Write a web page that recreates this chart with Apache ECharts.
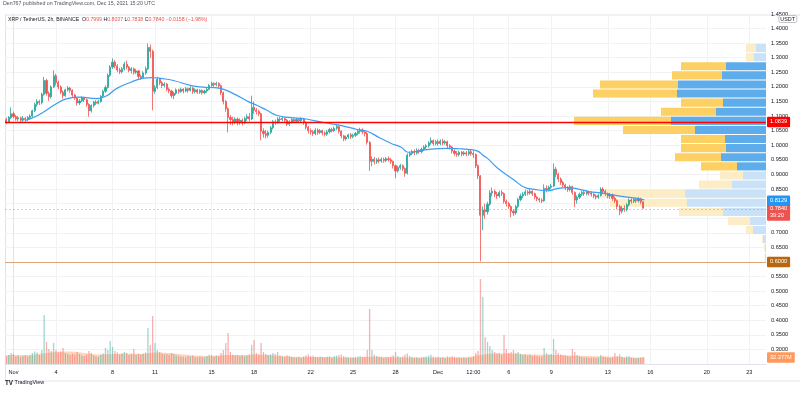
<!DOCTYPE html>
<html><head><meta charset="utf-8">
<script src="https://cdn.jsdelivr.net/npm/echarts@6/dist/echarts.min.js"></script>
<style>html,body{margin:0;padding:0;background:#fff}#c{width:800px;height:394px}</style>
</head><body><div id="c"></div>
<script>
// ---------------- DATA ----------------
// 4h candles starting Oct 31 12:00 UTC (day -0.5 relative to Nov 1 00:00), [open, close, low, high]
const candleStartDay = -0.5;
const candleStepDays = 1 / 6;
const candles = [
[1.088,1.080,1.072,1.095],[1.080,1.095,1.076,1.100],[1.095,1.108,1.090,1.130],
[1.108,1.098,1.092,1.115],[1.098,1.090,1.084,1.104],[1.090,1.094,1.082,1.100],[1.094,1.086,1.078,1.098],[1.086,1.092,1.080,1.100],[1.092,1.088,1.080,1.097],
[1.088,1.095,1.083,1.100],[1.095,1.100,1.088,1.106],[1.100,1.118,1.096,1.122],[1.118,1.140,1.114,1.146],[1.140,1.150,1.132,1.158],[1.150,1.146,1.138,1.156],
[1.146,1.175,1.140,1.180],[1.175,1.222,1.170,1.234],[1.222,1.178,1.170,1.228],[1.178,1.166,1.152,1.185],[1.166,1.200,1.160,1.205],[1.200,1.238,1.196,1.257],
[1.238,1.215,1.205,1.245],[1.215,1.200,1.192,1.222],[1.200,1.182,1.175,1.206],[1.182,1.170,1.160,1.188],[1.170,1.190,1.166,1.194],[1.190,1.196,1.184,1.203],
[1.196,1.188,1.180,1.200],[1.188,1.172,1.166,1.192],[1.172,1.162,1.156,1.176],[1.162,1.145,1.136,1.166],[1.145,1.152,1.138,1.158],[1.152,1.162,1.148,1.168],
[1.162,1.156,1.148,1.166],[1.156,1.140,1.132,1.160],[1.140,1.118,1.098,1.144],[1.118,1.136,1.112,1.140],[1.136,1.148,1.130,1.152],[1.148,1.144,1.138,1.155],
[1.144,1.150,1.140,1.156],[1.150,1.168,1.146,1.172],[1.168,1.185,1.162,1.190],[1.185,1.198,1.180,1.205],[1.198,1.240,1.194,1.246],[1.240,1.268,1.234,1.275],
[1.268,1.285,1.262,1.298],[1.285,1.272,1.264,1.292],[1.272,1.258,1.250,1.278],[1.258,1.252,1.244,1.266],[1.252,1.262,1.246,1.268],[1.262,1.278,1.256,1.286],
[1.278,1.268,1.260,1.290],[1.268,1.256,1.250,1.272],[1.256,1.262,1.246,1.268],[1.262,1.250,1.242,1.266],[1.250,1.255,1.244,1.262],[1.255,1.236,1.228,1.258],
[1.236,1.232,1.224,1.242],[1.232,1.248,1.228,1.254],[1.248,1.262,1.242,1.270],[1.262,1.335,1.258,1.349],[1.335,1.322,1.300,1.345],[1.322,1.185,1.120,1.328],
[1.185,1.198,1.176,1.206],[1.198,1.226,1.192,1.235],[1.226,1.214,1.206,1.232],[1.214,1.205,1.196,1.220],[1.205,1.210,1.198,1.216],[1.210,1.192,1.186,1.214],
[1.192,1.186,1.178,1.198],[1.186,1.170,1.162,1.190],[1.170,1.178,1.158,1.184],[1.178,1.190,1.172,1.195],[1.190,1.184,1.176,1.194],[1.184,1.192,1.180,1.198],
[1.192,1.186,1.178,1.196],[1.186,1.194,1.182,1.200],[1.194,1.188,1.180,1.198],[1.188,1.196,1.184,1.202],[1.196,1.184,1.176,1.200],[1.184,1.190,1.178,1.195],
[1.190,1.182,1.176,1.194],[1.182,1.188,1.176,1.192],[1.188,1.180,1.174,1.192],[1.180,1.186,1.175,1.190],[1.186,1.192,1.180,1.198],[1.192,1.205,1.188,1.210],
[1.205,1.212,1.200,1.218],[1.212,1.208,1.200,1.216],[1.208,1.212,1.202,1.218],[1.212,1.204,1.196,1.216],[1.204,1.180,1.172,1.208],[1.180,1.150,1.140,1.184],
[1.150,1.125,1.115,1.155],[1.125,1.095,1.044,1.130],[1.095,1.088,1.070,1.104],[1.088,1.080,1.068,1.098],[1.080,1.090,1.072,1.096],[1.090,1.078,1.068,1.095],
[1.078,1.086,1.070,1.092],[1.086,1.076,1.068,1.092],[1.076,1.092,1.072,1.098],[1.092,1.098,1.084,1.106],[1.098,1.090,1.082,1.110],[1.090,1.130,1.086,1.170],
[1.130,1.120,1.108,1.150],[1.120,1.116,1.105,1.128],[1.116,1.108,1.100,1.122],[1.108,1.048,1.017,1.112],[1.048,1.040,1.026,1.058],[1.040,1.034,1.024,1.052],
[1.034,1.044,1.026,1.050],[1.044,1.060,1.038,1.066],[1.060,1.080,1.054,1.086],[1.080,1.078,1.070,1.088],[1.078,1.090,1.074,1.096],[1.090,1.088,1.080,1.097],
[1.088,1.092,1.082,1.098],[1.092,1.086,1.078,1.096],[1.086,1.072,1.066,1.090],[1.072,1.080,1.066,1.086],[1.080,1.088,1.074,1.093],[1.088,1.082,1.076,1.092],
[1.082,1.088,1.076,1.094],[1.088,1.084,1.076,1.092],[1.084,1.090,1.078,1.096],[1.090,1.078,1.070,1.094],[1.078,1.062,1.054,1.082],[1.062,1.050,1.040,1.066],
[1.050,1.046,1.036,1.058],[1.046,1.040,1.032,1.052],[1.040,1.052,1.034,1.058],[1.052,1.044,1.036,1.058],[1.044,1.050,1.038,1.056],[1.050,1.042,1.034,1.054],
[1.042,1.038,1.030,1.048],[1.038,1.046,1.032,1.052],[1.046,1.054,1.040,1.060],[1.054,1.050,1.044,1.060],[1.050,1.058,1.046,1.064],[1.058,1.064,1.052,1.070],
[1.064,1.048,1.040,1.068],[1.048,1.032,1.024,1.052],[1.032,1.022,1.014,1.036],[1.022,1.028,1.016,1.034],[1.028,1.036,1.022,1.040],[1.036,1.030,1.022,1.042],
[1.030,1.034,1.024,1.040],[1.034,1.040,1.028,1.046],[1.040,1.048,1.034,1.054],[1.048,1.052,1.040,1.060],[1.052,1.046,1.038,1.058],[1.046,1.040,1.030,1.050],
[1.040,1.010,1.002,1.046],[1.010,0.945,0.912,1.014],[0.945,0.952,0.928,0.962],[0.952,0.944,0.934,0.960],[0.944,0.950,0.936,0.956],[0.950,0.946,0.938,0.958],
[0.946,0.952,0.940,0.958],[0.952,0.948,0.940,0.958],[0.948,0.954,0.942,0.960],[0.954,0.950,0.944,0.962],[0.950,0.944,0.936,0.956],[0.944,0.930,0.920,0.948],
[0.930,0.912,0.887,0.934],[0.912,0.924,0.906,0.930],[0.924,0.930,0.916,0.936],[0.930,0.920,0.912,0.934],[0.920,0.904,0.892,0.924],[0.904,0.966,0.900,0.972],
[0.966,0.972,0.960,0.978],[0.972,0.978,0.966,0.984],[0.978,0.974,0.966,0.986],[0.974,0.982,0.968,0.990],[0.982,0.978,0.970,0.988],[0.978,0.986,0.972,0.992],
[0.986,0.994,0.980,1.000],[0.994,0.998,0.986,1.004],[0.998,1.008,0.992,1.014],[1.008,1.016,1.002,1.027],[1.016,1.006,0.998,1.020],[1.006,1.012,1.000,1.018],
[1.012,1.006,0.998,1.020],[1.006,1.014,1.000,1.020],[1.014,1.008,1.000,1.022],[1.008,1.012,1.002,1.018],[1.012,0.998,0.990,1.016],[0.998,0.994,0.986,1.004],
[0.994,0.980,0.972,0.998],[0.980,0.972,0.964,0.986],[0.972,0.968,0.960,0.980],[0.968,0.976,0.962,0.982],[0.976,0.970,0.962,0.980],[0.970,0.974,0.964,0.980],
[0.974,0.970,0.962,0.980],[0.970,0.978,0.964,0.984],[0.978,0.972,0.964,0.984],[0.972,0.968,0.956,0.980],[0.968,0.930,0.922,0.972],[0.930,0.895,0.884,0.934],
[0.895,0.760,0.602,0.898],[0.760,0.778,0.709,0.790],[0.778,0.772,0.748,0.800],[0.772,0.798,0.762,0.806],[0.798,0.836,0.792,0.846],[0.836,0.842,0.824,0.855],
[0.842,0.832,0.822,0.848],[0.832,0.826,0.816,0.840],[0.826,0.838,0.820,0.844],[0.838,0.834,0.826,0.846],[0.834,0.808,0.800,0.838],[0.808,0.800,0.790,0.814],
[0.800,0.790,0.782,0.806],[0.790,0.774,0.753,0.794],[0.774,0.768,0.758,0.780],[0.768,0.790,0.762,0.796],[0.790,0.814,0.784,0.820],[0.814,0.826,0.808,0.834],
[0.826,0.832,0.818,0.840],[0.832,0.840,0.826,0.848],[0.840,0.836,0.828,0.846],[0.836,0.842,0.830,0.850],[0.842,0.834,0.826,0.846],[0.834,0.822,0.814,0.838],
[0.822,0.816,0.808,0.826],[0.816,0.812,0.804,0.820],[0.812,0.810,0.802,0.818],[0.810,0.852,0.806,0.866],[0.852,0.848,0.838,0.862],[0.848,0.856,0.842,0.862],
[0.856,0.860,0.848,0.868],[0.860,0.918,0.856,0.938],[0.918,0.900,0.890,0.926],[0.900,0.884,0.874,0.906],[0.884,0.872,0.864,0.890],[0.872,0.864,0.856,0.878],
[0.864,0.856,0.846,0.868],[0.856,0.848,0.840,0.860],[0.848,0.858,0.842,0.864],[0.858,0.838,0.830,0.862],[0.838,0.812,0.788,0.842],[0.812,0.822,0.800,0.828],
[0.822,0.832,0.816,0.838],[0.832,0.838,0.826,0.844],[0.838,0.834,0.826,0.846],[0.834,0.840,0.828,0.846],[0.840,0.836,0.828,0.844],[0.836,0.832,0.824,0.842],
[0.832,0.826,0.818,0.836],[0.826,0.822,0.814,0.832],[0.822,0.828,0.816,0.834],[0.828,0.850,0.824,0.856],[0.850,0.842,0.834,0.856],[0.842,0.834,0.826,0.848],
[0.834,0.826,0.818,0.838],[0.826,0.830,0.816,0.836],[0.830,0.818,0.810,0.834],[0.818,0.810,0.802,0.824],[0.810,0.790,0.780,0.814],[0.790,0.774,0.760,0.796],
[0.774,0.784,0.766,0.792],[0.784,0.780,0.772,0.794],[0.780,0.796,0.774,0.802],[0.796,0.812,0.790,0.818],[0.812,0.808,0.800,0.818],[0.808,0.814,0.802,0.820],
[0.814,0.810,0.802,0.820],[0.810,0.816,0.804,0.822],[0.816,0.806,0.798,0.820],[0.806,0.784,0.7838,0.8037]
];

// volume per bar (millions of XRP)
const volumes = [
40,45,55,
50,38,42,35,40,44,
38,42,55,62,58,45,
70,245,110,75,65,105,
70,58,62,80,55,50,
45,52,48,60,50,42,
40,48,65,55,42,38,
36,45,52,80,70,115,
85,65,58,48,52,60,
55,45,50,75,46,52,
48,52,58,180,95,240,
105,70,60,52,48,50,
46,55,50,42,40,38,
36,34,40,38,42,35,
34,38,36,33,40,48,
45,38,42,40,55,70,
105,155,60,48,42,45,
40,44,38,42,46,95,
120,55,48,105,60,50,
45,48,55,50,60,42,
38,36,44,40,35,34,
32,35,30,38,44,48,
40,42,36,34,38,35,
33,36,38,34,40,42,
45,48,40,36,34,33,
32,34,38,40,36,35,
70,275,70,48,40,36,
34,30,32,35,38,44,
60,40,34,38,48,52,
40,35,32,34,30,33,
35,38,42,46,36,34,
36,32,35,30,38,35,
40,36,32,34,30,32,
30,34,32,36,55,65,
425,335,135,110,90,70,
60,52,55,48,145,75,
55,60,70,55,60,50,
45,48,42,46,40,44,
40,38,36,80,55,48,
50,125,70,55,48,45,
42,40,38,75,60,45,
38,35,32,34,30,33,
32,30,34,45,38,35,
33,30,34,55,40,48,
38,30,36,40,32,30,
28,30,32,35
];

// volume moving average (millions), read at these days
const volMaDays   = [-0.5,1,2,3,4,5,6,7,8,9,10,11,12,13,14,15,16,17,18,19,20,21,22,23,24,25,26,27,28,29,30,31,32,33,34,35,36,37,38,39,40,41,42,43,44,44.6];
const volMaValues = [45,45,52,60,62,55,48,50,52,50,58,55,48,42,40,45,45,48,45,40,36,35,35,33,32,36,36,34,33,32,33,33,34,45,52,52,50,47,45,44,41,39,37,35,33,32.377];

// price moving average (blue line)
const maDays   = [0.8,1.4,2.1,3.05,3.8,4.7,5.9,6.6,7.3,8.25,9.2,9.8,10.4,11.3,12.5,13.2,13.9,14.6,15.5,16.7,17.2,17.9,18.65,19.6,20.3,20.7,21.9,22.6,23.1,24.3,25.0,25.9,26.7,27.4,27.9,28.5,29.5,30.7,31.5,32.1,32.8,33.2,33.5,34.2,35.4,36.1,36.8,37.75,38.4,39.1,40.0,40.6,41.75,42.95,44.1,44.58];
const maValues = [1.085,1.095,1.113,1.143,1.160,1.165,1.160,1.170,1.195,1.215,1.230,1.232,1.229,1.222,1.205,1.200,1.198,1.195,1.178,1.147,1.137,1.120,1.102,1.095,1.092,1.090,1.078,1.072,1.068,1.054,1.048,1.025,1.006,0.993,0.976,0.979,0.987,0.989,0.988,0.986,0.980,0.965,0.955,0.922,0.880,0.856,0.849,0.844,0.851,0.855,0.849,0.842,0.835,0.825,0.818,0.8129];

// visible-range volume profile: 24 rows from 0.600 upward, [up volume, down volume]
const vpFirstPrice = 0.600;
const vpRowSize = 0.0312;
const vpUp   = [1,1.2,3,13,16,43,79,81,34,23,29,45,40,41,71,95,50,43,89,88,44,40,12,10];
const vpDown = [0.5,0.8,1,7,22,44,77,85,33,23,36,46,45,44,72,97,55,42,84,78,50,45,8,10];
const vpValueArea = [10, 21]; // row indices inside value area

// time axis ticks (days since Nov 1 00:00 UTC)
const tickDays   = [0,3,7,10,14,17,21,24,27,30,32.5,35,38,42,45,49,52];
const tickLabels = ['Nov','4','8','11','15','18','22','25','28','Dec','12:00','6','9','13','16','20','23'];

// price levels & tags
const redLevel = 1.0839;
const supportLevel = 0.6000;
const lastPrice = 0.7840;
const lastMa = 0.8129;
const lastVolMa = 32.377;
const countdown = '39:20';

// ---------------- CHART ----------------
const FONT = '"Liberation Sans", Arial, sans-serif';
const UP = '#26a69a', DOWN = '#ef5350';
const chart = echarts.init(document.getElementById('c'));

const candleData = candles.map((c, k) => [candleStartDay + k * candleStepDays, c[0], c[1], c[2], c[3]]);
const volData = volumes.map((v, k) => [candleStartDay + k * candleStepDays, v]);
const volMaData = volMaDays.map((d, i) => [d, volMaValues[i]]);
const maData = maDays.map((d, i) => [d, maValues[i]]);
const vpData = vpUp.map((u, i) => [i, u, vpDown[i]]);

function tag(bg, text, extra) {
  return Object.assign({
    show: true, position: 'end', distance: 1, formatter: text,
    color: '#fff', backgroundColor: bg, fontSize: 5.6, fontFamily: FONT,
    padding: [2, 3, 1.5, 3], borderRadius: 1, lineHeight: 7
  }, extra || {});
}
const HIDDEN_LINE = { color: 'rgba(0,0,0,0)', width: 0.01 };

const option = {
  animation: false,
  backgroundColor: '#ffffff',
  textStyle: { fontFamily: FONT },
  graphic: [{
    type: 'rect', left: 3, top: 12.5, silent: true, z: -10,
    shape: { width: 800, height: 366 },
    style: { fill: 'none', stroke: '#e0e3eb', lineWidth: 1 }
  }],
  title: [
    { text: 'Den767 published on TradingView.com, Dec 15, 2021 15:20 UTC', left: 3, top: 1.5, padding: 0,
      textStyle: { fontSize: 5.25, color: '#50535e', fontWeight: 'normal', fontFamily: FONT } },
    { text: '{s|XRP / TetherUS, 2h, BINANCE}  {k|O}{v|0.7999} {k|H}{v|0.8037} {k|L}{v|0.7838} {k|C}{v|0.7840} {v|\u22120.0158 (\u22121.98%)}',
      left: 8, top: 17.5, padding: 0,
      textStyle: { fontSize: 5.2, fontWeight: 'normal', fontFamily: FONT, rich: {
        s: { fontSize: 5.2, color: '#131722', fontFamily: FONT },
        k: { fontSize: 5.2, color: '#131722', fontFamily: FONT },
        v: { fontSize: 5.2, color: '#ef5350', fontFamily: FONT } } } },
    { text: 'USDT', right: 3, top: 15.5, padding: [1.5, 2, 1, 2], borderColor: '#b2b5be', borderWidth: 0.8, borderRadius: 1.5,
      backgroundColor: '#fff', textStyle: { fontSize: 5.4, color: '#131722', fontWeight: 'normal', fontFamily: FONT } },
    { text: '{b|TV} {t|TradingView}', left: 5, top: 380, padding: 0,
      textStyle: { fontSize: 5.4, fontWeight: 'normal', fontFamily: FONT, rich: {
        b: { fontSize: 6.3, fontWeight: 'bold', color: '#131722', fontFamily: FONT },
        t: { fontSize: 5.4, color: '#131722', fontFamily: FONT } } } }
  ],
  grid: { left: 5, right: 34, top: 14, bottom: 30, containLabel: false, outerBoundsMode: 'none' },
  xAxis: [
    { type: 'value', min: -0.6, max: 53.18, gridIndex: 0,
      axisLine: { show: true, onZero: false, lineStyle: { color: '#e0e3eb', width: 1 } },
      axisTick: { show: false, customValues: tickDays },
      axisLabel: { customValues: tickDays, fontSize: 5.6, color: '#131722', margin: 5, fontFamily: FONT,
        formatter: v => { const i = tickDays.indexOf(Math.round(v * 2) / 2); return i >= 0 ? tickLabels[i] : ''; } },
      splitLine: { show: true, lineStyle: { color: '#f0f2f6', width: 1 } } },
    { type: 'value', min: 0, max: 761, inverse: true, gridIndex: 0, show: false }
  ],
  yAxis: [
    { type: 'value', position: 'right', min: 0.25, max: 1.45, interval: 0.05, gridIndex: 0,
      axisLine: { show: true, lineStyle: { color: '#e0e3eb', width: 1 } },
      axisTick: { show: false },
      axisLabel: { fontSize: 5.6, color: '#131722', margin: 5, fontFamily: FONT,
        formatter: v => (v < 0.27 ? '' : v.toFixed(4)) },
      splitLine: { show: true, lineStyle: { color: '#f0f2f6', width: 1 } } },
    { type: 'value', min: 0, max: 1750, gridIndex: 0, show: false }
  ],
  series: [
    { type: 'custom', name: 'VPVR', xAxisIndex: 1, yAxisIndex: 0, z: 1, silent: true,
      data: vpData,
      renderItem: (params, api) => {
        const i = api.value(0), up = api.value(1), dn = api.value(2);
        const lo = vpFirstPrice + i * vpRowSize, hi = lo + vpRowSize;
        const a = api.coord([0, hi]);
        const b = api.coord([up, lo]);
        const c = api.coord([up + dn, lo]);
        const inVA = i >= vpValueArea[0] && i <= vpValueArea[1];
        const top = a[1] + 0.5, h = Math.max(0.5, b[1] - a[1] - 1);
        return { type: 'group', children: [
          { type: 'rect', shape: { x: b[0], y: top, width: a[0] - b[0], height: h },
            style: { fill: inVA ? '#5eacea' : '#c9e2f7' } },
          { type: 'rect', shape: { x: c[0], y: top, width: b[0] - c[0], height: h },
            style: { fill: inVA ? '#fcd062' : '#fdedc6' } }
        ] };
      } },
    { type: 'bar', name: 'Volume', xAxisIndex: 0, yAxisIndex: 1, z: 2, barWidth: 1.3, silent: true,
      data: volData,
      itemStyle: { color: p => (candles[p.dataIndex][1] >= candles[p.dataIndex][0] ? 'rgba(38,166,154,0.45)' : 'rgba(239,83,80,0.45)') } },
    { type: 'line', name: 'Vol MA', xAxisIndex: 0, yAxisIndex: 1, z: 2, silent: true, smooth: 0.4,
      data: volMaData, showSymbol: false, symbol: 'none',
      lineStyle: { width: 0 }, areaStyle: { color: 'rgba(255,136,72,0.5)', origin: 'start' },
      markLine: { symbol: 'none', silent: true,
        data: [{ yAxis: lastVolMa, lineStyle: HIDDEN_LINE, label: tag('#ff9a5c', lastVolMa.toFixed(3) + 'M') }] } },
    { type: 'candlestick', name: 'XRPUSDT', xAxisIndex: 0, yAxisIndex: 0, z: 3, silent: true,
      data: candleData, encode: { x: 0, y: [1, 2, 3, 4] }, barWidth: 1.6,
      itemStyle: { color: UP, color0: DOWN, borderColor: UP, borderColor0: DOWN, borderWidth: 0.8 },
      markLine: { symbol: 'none', silent: true,
        data: [
          { yAxis: redLevel, lineStyle: { color: '#ff0000', width: 1.3, type: 'solid' }, label: tag('#ff0000', redLevel.toFixed(4)) },
          { yAxis: supportLevel, lineStyle: { color: '#dba67a', width: 1.2, type: 'solid' }, label: tag('#b8660f', supportLevel.toFixed(4)) },
          { yAxis: lastPrice, lineStyle: { color: 'rgba(239,83,80,0.35)', width: 1, type: [2, 2] },
            label: tag('#ef5350', lastPrice.toFixed(4) + '\n' + countdown, { offset: [0, 2.5] }) }
        ] } },
    { type: 'line', name: 'MA', xAxisIndex: 0, yAxisIndex: 0, z: 4, silent: true, smooth: 0.5,
      data: maData, showSymbol: false, symbol: 'none',
      lineStyle: { color: '#3d9df2', width: 1.2 },
      markLine: { symbol: 'none', silent: true,
        data: [{ yAxis: lastMa, lineStyle: HIDDEN_LINE, label: tag('#2196f3', lastMa.toFixed(4)) }] } }
  ]
};
chart.setOption(option);
</script></body></html>
